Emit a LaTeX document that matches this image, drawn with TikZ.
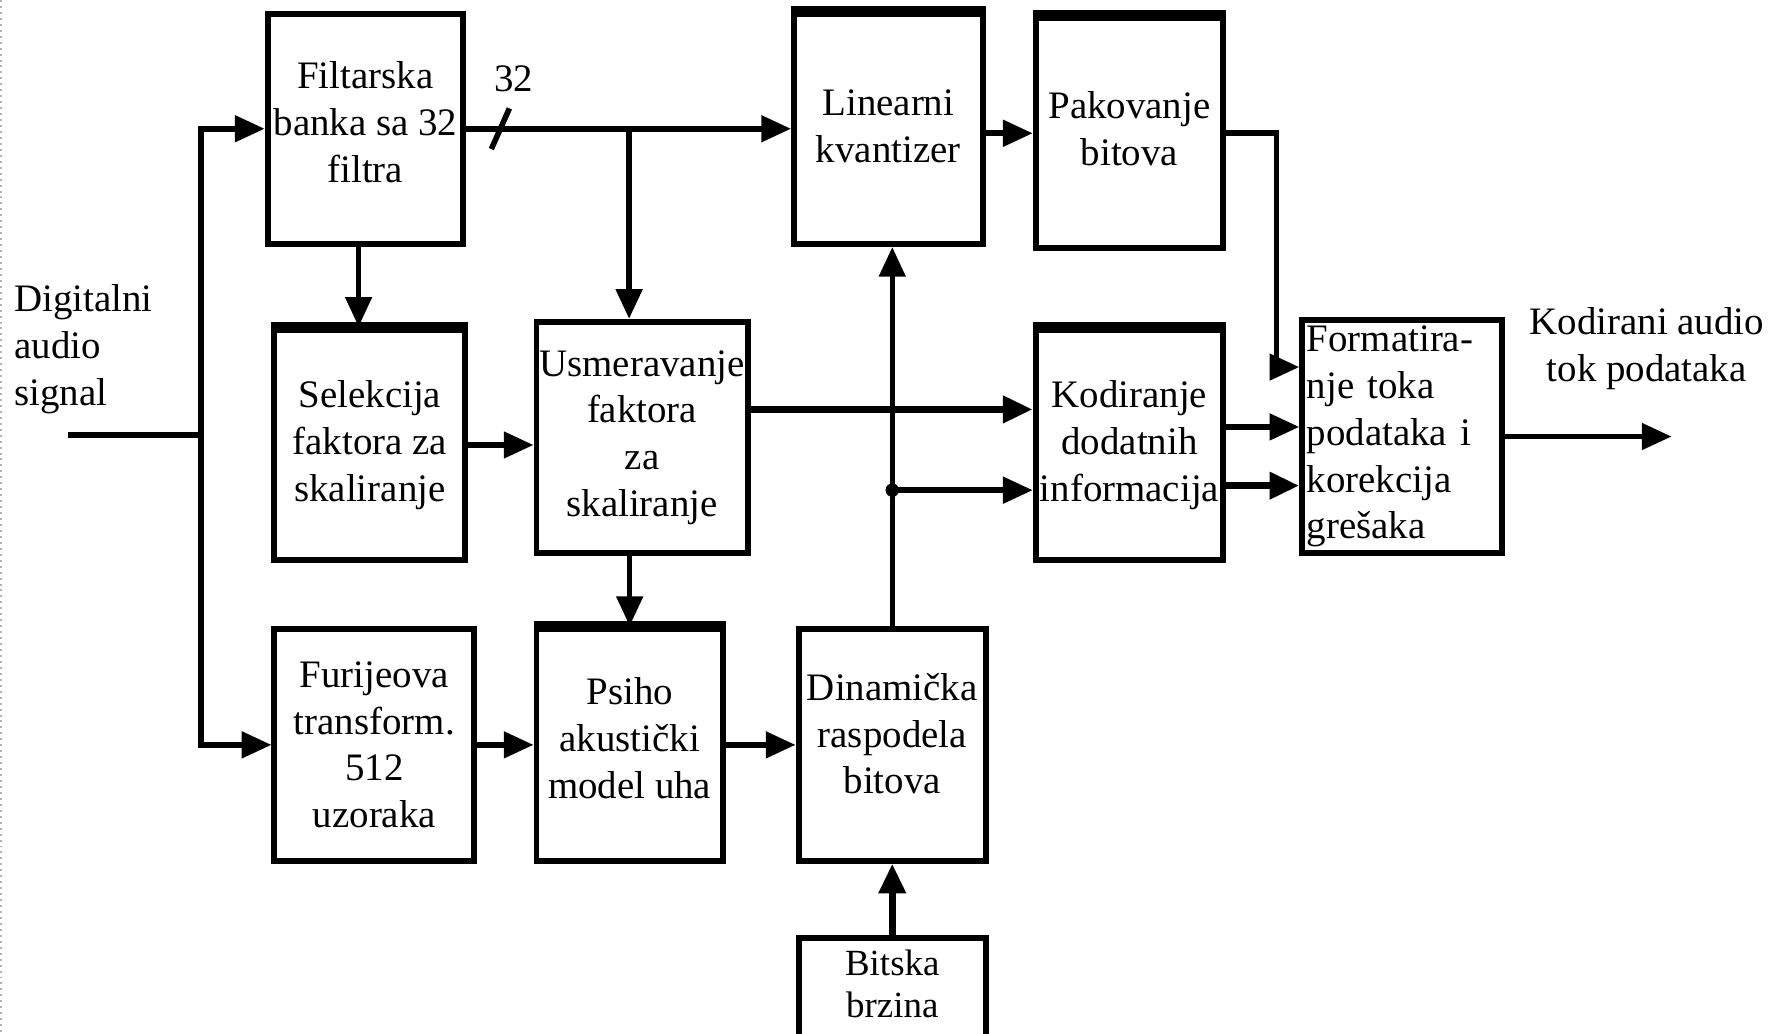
\documentclass[tikz,border=0pt]{standalone}
\usepackage{fontspec}
\setmainfont{Liberation Serif}
\usetikzlibrary{arrows.meta,calc}
\begin{document}
\begin{tikzpicture}[x=0.1mm,y=-0.1mm,
  blk/.style={draw, line width=1.5pt, inner sep=0pt, align=center,
    font=\fontsize{9.8}{11.8}\selectfont},
  txt/.style={inner sep=0pt, font=\fontsize{9.8}{11.8}\selectfont},
  wire/.style={line width=1.4pt},
  arr/.style={wire, -{Triangle[length=7.5pt,width=6.5pt]}},
  heavy/.style={line width=1.9pt},
  ]
\useasboundingbox (0,0) rectangle (1568,915);
\clip (0,0) rectangle (1568,915);
\draw[black!30, densely dotted, line width=0.5pt] (1,0) -- (1,915);

% processing blocks (text depth lifts the text a little inside some boxes)
\node[blk, minimum width=17.3mm, minimum height=20.4mm, text depth=1.2mm] (fb) at (323.5,114) {Filtarska\\banka sa 32\\filtra};
\node[blk, minimum width=16.7mm, minimum height=20.4mm, text depth=0.5mm] (lq) at (786.5,114) {Linearni\\kvantizer};
\node[blk, minimum width=16.6mm, minimum height=20.4mm, text depth=0.8mm] (pb) at (1000,118) {Pakovanje\\bitova};
\node[blk, minimum width=16.9mm, minimum height=20.4mm] (sel) at (327.5,394) {Selekcija\\faktora za\\skaliranje};
\node[blk, minimum width=18.7mm, minimum height=20.5mm] (usm) at (568.5,387.5) {Usmeravanje\\faktora\\za\\skaliranje};
\node[blk, minimum width=16.6mm, minimum height=20.4mm] (kod) at (1000,394) {Kodiranje\\dodatnih\\informacija};
\node[blk, minimum width=17.7mm, minimum height=20.7mm, text width=16.9mm, align=left, inner xsep=0.4mm] (fmt) at (1241.5,386.5) {Formatira-\\nje toka\\podataka i\\korekcija\\grešaka};
\node[blk, minimum width=17.7mm, minimum height=20.5mm] (fur) at (331.5,659.5) {Furijeova\\transform.\\512\\uzoraka};
\node[blk, minimum width=16.5mm, minimum height=20.5mm, text depth=1.2mm] (psi) at (557.5,659.5) {Psiho\\akustički\\model uha};
\node[blk, minimum width=16.6mm, minimum height=20.5mm, text depth=2mm] (din) at (790,659.5) {Dinamička\\raspodela\\bitova};
\node[blk, minimum width=16.6mm, minimum height=13.2mm, anchor=north] (bit) at (790,828) {};
\node[txt, align=center, font=\fontsize{9.3}{10.6}\selectfont] (bittxt) at (790,871) {Bitska\\brzina};

% heavier top edges
\foreach \b in {lq,pb,sel,kod,psi}
  \draw[line width=2.4pt] (\b.north west) -- (\b.north east);

% input and output labels
\node[txt, align=left, anchor=west] (inlab) at (12,309) {Digitalni\\audio\\signal};
\node[txt, align=center] (outlab) at (1458,309) {Kodirani audio\\tok podataka};

% input distribution
\coordinate (src) at (60,385);
\coordinate (split) at (178,385);
\draw[wire] (src) -- (split);
\draw[arr] (split) |- (fb.west);
\draw[arr] (split) |- (fur.west);

% 32-channel bus
\draw[arr] (fb.east) -- (lq.west);
\coordinate (bus) at (443,114);
\draw[wire] ($(bus)+(-8,18)$) -- ($(bus)+(8,-18)$);
\node[txt] (n32) at (455,70) {32};
\coordinate (tap) at (557,114);
\draw[arr] (tap) -- (tap |- usm.north);

\draw[arr] ([xshift=-0.6mm]fb.south) -- ([xshift=-0.6mm]fb.south |- sel.north);
\draw[arr] (lq.east |- pb.west) -- (pb.west);
\coordinate (drop) at (1130,325);
\draw[arr] (pb.east) -| (drop) -- (drop -| fmt.west);

\draw[arr] (sel.east) -- (sel.east -| usm.west);
\draw[arr, heavy] ([yshift=2.5mm]usm.east) -- ([yshift=2.5mm]usm.east -| kod.west);
\draw[arr] (psi.north |- usm.south) -- (psi.north);

% bit allocation feeds quantizer and side information
\draw[arr] (din.north) -- (din.north |- lq.south);
\coordinate (dot) at (790,434);
\fill (dot) circle (0.6mm);
\draw[arr] (dot) -- (dot -| kod.west);

\draw[arr] ([yshift=1.6mm]kod.east) -- ([yshift=1.6mm]kod.east -| fmt.west);
\draw[arr, heavy] ([yshift=-3.6mm]kod.east) -- ([yshift=-3.6mm]kod.east -| fmt.west);
\coordinate (sink) at (1480,386.5);
\draw[arr] (fmt.east) -- (sink);

\draw[arr] (fur.east) -- (psi.west);
\draw[arr] (psi.east) -- (din.west);
\draw[arr, heavy] (bit.north) -- (din.south);
\end{tikzpicture}
\end{document}
